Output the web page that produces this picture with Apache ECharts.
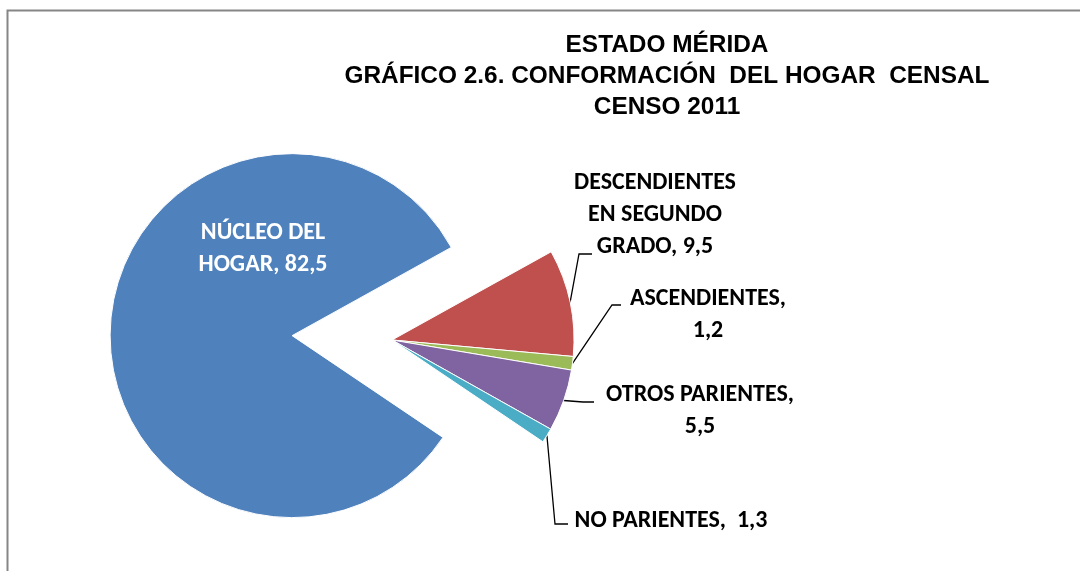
<!DOCTYPE html>
<html>
<head>
<meta charset="utf-8">
<script src="https://cdn.jsdelivr.net/npm/echarts@6/dist/echarts.min.js"></script>
<style>
  html, body { margin: 0; padding: 0; background: #fff; }
  #main { width: 1080px; height: 571px; }
</style>
</head>
<body>
<div id="main"></div>
<script>
// datos del grafico (orden en sentido horario)
var categories = ['NÚCLEO DEL HOGAR', 'DESCENDIENTES EN SEGUNDO GRADO', 'ASCENDIENTES', 'OTROS PARIENTES', 'NO PARIENTES'];
var values = [82.5, 9.5, 1.2, 5.5, 1.3];
var colors = ['#4F81BD', '#C0504D', '#9BBB59', '#8064A2', '#4BACC6'];
var titleLines = ['ESTADO MÉRIDA', 'GRÁFICO 2.6. CONFORMACIÓN  DEL HOGAR  CENSAL', 'CENSO 2011'];

// texto de cada etiqueta como en el original
var labelText = [
  'NÚCLEO DEL\nHOGAR, {v}',
  'DESCENDIENTES\nEN SEGUNDO\nGRADO, {v}',
  'ASCENDIENTES,\n{v}',
  'OTROS PARIENTES,\n{v}',
  'NO PARIENTES,  {v}'
];
// posicion de etiquetas (centro del bloque) y lineas guia
var labelPos = [[263, 249], [655, 215], [708, 315], [700, 411], [671, 521]];
var leader = [null, [[579, 254], [592, 254]], [[612, 305], [621, 305]], [[583, 402], [594, 402]], [[555, 524], [568, 524]]];

var labelFont = 'Carlito, Lato, sans-serif';
var pieCenter = [392, 340];
var explode = 100;   // desplazamiento del sector principal
var startAngle = 326;

// el sector principal se dibuja separado (desplazado hacia su angulo medio)
var total = values.reduce(function (a, b) { return a + b; }, 0);
var midAngle = (startAngle - values[0] / total * 360 / 2) * Math.PI / 180;
var explodedCenter = [pieCenter[0] + explode * Math.cos(midAngle), pieCenter[1] - explode * Math.sin(midAngle)];

function labelFormatter(p) {
  return labelText[p.dataIndex].replace('{v}', String(p.value).replace('.', ','));
}

function pieData(showIdx) {
  return categories.map(function (c, i) {
    var on = showIdx(i);
    return {
      name: c,
      value: values[i],
      itemStyle: on ? { color: colors[i], borderColor: '#fff', borderWidth: 1 } : { color: 'transparent', borderWidth: 0 },
      label: { show: on },
      labelLine: { show: on && i !== 0 }
    };
  });
}

function layoutLabel(params) {
  var i = params.dataIndex;
  var out = { x: labelPos[i][0], y: labelPos[i][1], align: 'center', verticalAlign: 'middle' };
  if (leader[i] && params.labelLinePoints) {
    out.labelLinePoints = [params.labelLinePoints[0], leader[i][0], leader[i][1]];
  }
  return out;
}

var baseSeries = {
  type: 'pie',
  radius: 182,
  startAngle: startAngle,
  clockwise: true,
  avoidLabelOverlap: false,
  silent: true,
  emphasis: { disabled: true },
  label: {
    position: 'outside',
    color: '#000',
    fontFamily: labelFont,
    fontWeight: 'bold',
    fontSize: 24,
    lineHeight: 32,
    align: 'center',
    formatter: labelFormatter
  },
  labelLine: { length: 10, length2: 10, lineStyle: { color: '#000', width: 1.3 } },
  labelLayout: layoutLabel
};

var myChart = echarts.init(document.getElementById('main'));
var option = {
  backgroundColor: '#fff',
  animation: false,
  graphic: [
    {
      type: 'polyline',
      shape: { points: [[7.5, 571], [7.5, 10.5], [1080, 10.5]] },
      style: { stroke: '#868686', lineWidth: 2, fill: null }
    },
    {
      type: 'text',
      x: 667,
      y: 30,
      style: {
        text: titleLines.join('\n'),
        fill: '#000',
        font: 'bold 24.4px "Liberation Sans", Arial, sans-serif',
        lineHeight: 31,
        align: 'center'
      }
    }
  ],
  series: [
    Object.assign({}, baseSeries, {
      center: explodedCenter,
      label: Object.assign({}, baseSeries.label, { color: '#fff' }),
      data: pieData(function (i) { return i === 0; })
    }),
    Object.assign({}, baseSeries, {
      center: pieCenter,
      data: pieData(function (i) { return i !== 0; })
    })
  ]
};
myChart.setOption(option);
</script>
</body>
</html>
